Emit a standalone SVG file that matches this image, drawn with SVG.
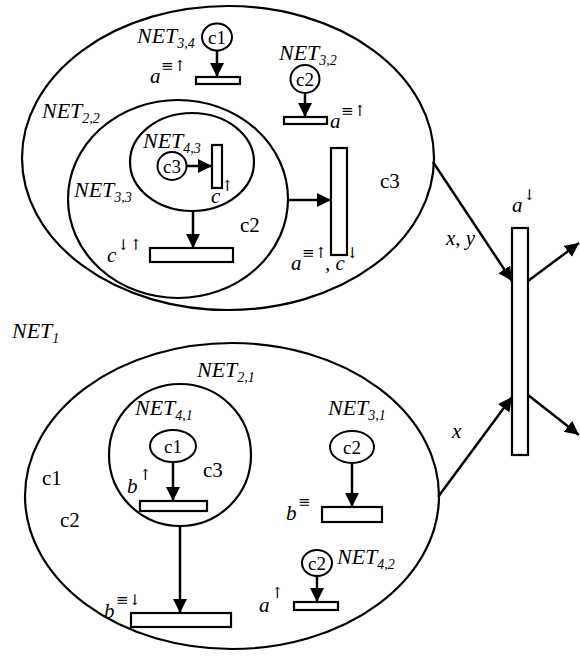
<svg xmlns="http://www.w3.org/2000/svg" width="580" height="656" viewBox="0 0 580 656">
<defs>
<marker id="ah" markerUnits="userSpaceOnUse" markerWidth="16" markerHeight="16" refX="14" refY="7" orient="auto">
<path d="M0,0 L14,7 L0,14 z" fill="#000"/>
</marker>
<style>
.reg{fill:none;stroke:#000;stroke-width:2.2}
.bar{fill:#fff;stroke:#000;stroke-width:2.2}
.pl{fill:#fff;stroke:#000;stroke-width:2}
.cn{fill:none;stroke:#000;stroke-width:2.5;marker-end:url(#ah)}
.net{font-family:'Liberation Serif','Times New Roman','DejaVu Serif',serif;font-style:italic;font-size:22px;fill:#000}
.sub{font-size:14px}
.it{font-family:'Liberation Serif','Times New Roman','DejaVu Serif',serif;font-style:italic;font-size:21px;fill:#000}
.sup{font-family:'DejaVu Serif','DejaVu Sans',serif;font-style:normal;font-size:15px;fill:#000}
.col{font-family:'Liberation Serif','Times New Roman','DejaVu Serif',serif;font-size:21px;fill:#000}
.pc{font-family:'Liberation Serif','Times New Roman','DejaVu Serif',serif;font-size:19px;fill:#000;text-anchor:middle}
</style>
</defs>
<rect width="580" height="656" fill="#fff"/>

<g id="net1-label">
<text class="net" x="12" y="338">NET<tspan class="sub" dy="5">1</tspan></text>
</g>

<g id="top-region">
<ellipse class="reg" cx="228" cy="158" rx="206" ry="152"/>
<text class="col" x="380" y="188">c3</text>
</g>

<g id="net34">
<text class="net" x="137" y="43">NET<tspan class="sub" dy="5">3,4</tspan></text>
<ellipse class="pl" cx="217" cy="37" rx="15" ry="13.5"/>
<text class="pc" x="217" y="44">c1</text>
<rect class="bar" x="196" y="77" width="44" height="7"/>
<text class="it" x="150" y="83">a</text><text class="sup" x="161" y="71">≡↑</text>
</g>

<g id="net32">
<text class="net" x="279" y="60">NET<tspan class="sub" dy="5">3,2</tspan></text>
<ellipse class="pl" cx="305" cy="79" rx="14.5" ry="14"/>
<text class="pc" x="305" y="86">c2</text>
<rect class="bar" x="284" y="117" width="43" height="7"/>
<text class="it" x="330" y="128">a</text><text class="sup" x="341" y="116">≡↑</text>
</g>

<g id="net22">
<ellipse class="reg" cx="178" cy="199" rx="110" ry="99"/>
<text class="net" x="42" y="118">NET<tspan class="sub" dy="5">2,2</tspan></text>
<text class="col" x="240" y="232">c2</text>
</g>

<g id="net43">
<ellipse class="reg" cx="192" cy="162" rx="62" ry="49"/>
<text class="net" x="143" y="148">NET<tspan class="sub" dy="5">4,3</tspan></text>
<ellipse class="pl" cx="172" cy="166" rx="14.5" ry="14"/>
<text class="pc" x="172" y="173">c3</text>
<rect class="bar" x="212" y="145" width="10" height="43"/>
<text class="it" x="211" y="203">c</text><text class="sup" x="221" y="191">↑</text>
</g>

<g id="net33">
<text class="net" x="74" y="197">NET<tspan class="sub" dy="5">3,3</tspan></text>
<rect class="bar" x="150" y="248" width="83" height="14"/>
<text class="it" x="107" y="262">c</text><text class="sup" x="117" y="250">↓↑</text>
</g>

<g id="top-bar">
<rect class="bar" x="331" y="148" width="16" height="107"/>
<text class="it" x="291" y="270">a</text><text class="sup" x="302" y="258">≡↑</text>
<text class="it" x="325" y="270">, c</text><text class="sup" x="346" y="258">↓</text>
</g>

<g id="right-bar">
<rect class="bar" x="512" y="228" width="16" height="227"/>
<text class="it" x="512" y="212">a</text><text class="sup" x="523" y="200">↓</text>
</g>

<g id="bottom-region">
<ellipse class="reg" cx="232" cy="496" rx="207" ry="153"/>
<text class="col" x="42" y="485">c1</text>
<text class="col" x="60" y="527">c2</text>
</g>

<g id="net21">
<circle class="reg" cx="180" cy="455" r="71"/>
<text class="net" x="197" y="377">NET<tspan class="sub" dy="5">2,1</tspan></text>
<rect class="bar" x="131" y="613" width="100" height="14"/>
<text class="it" x="104" y="618">b</text><text class="sup" x="116" y="605">≡↓</text>
</g>

<g id="net41">
<text class="net" x="135" y="415">NET<tspan class="sub" dy="5">4,1</tspan></text>
<ellipse class="pl" cx="173" cy="446" rx="23" ry="16"/>
<text class="pc" x="173" y="453">c1</text>
<rect class="bar" x="140" y="501" width="67" height="10"/>
<text class="it" x="127" y="493">b</text><text class="sup" x="139" y="480">↑</text>
<text class="col" x="203" y="477">c3</text>
</g>

<g id="net31">
<text class="net" x="328" y="415">NET<tspan class="sub" dy="5">3,1</tspan></text>
<ellipse class="pl" cx="352" cy="447" rx="22" ry="16"/>
<text class="pc" x="352" y="454">c2</text>
<rect class="bar" x="322" y="507" width="60" height="15"/>
<text class="it" x="286" y="520">b</text><text class="sup" x="298" y="507">≡</text>
</g>

<g id="net42">
<text class="net" x="337" y="564">NET<tspan class="sub" dy="5">4,2</tspan></text>
<ellipse class="pl" cx="317" cy="563" rx="15" ry="13"/>
<text class="pc" x="317" y="570">c2</text>
<rect class="bar" x="294" y="602" width="44" height="8"/>
<text class="it" x="259" y="612">a</text><text class="sup" x="271" y="598">↑</text>
</g>

<g id="connectors">
<line class="cn" x1="217" y1="51" x2="217" y2="77"/>
<line class="cn" x1="305" y1="93" x2="305" y2="117"/>
<line class="cn" x1="187" y1="166" x2="212" y2="166"/>
<line class="cn" x1="193" y1="211" x2="193" y2="248"/>
<line class="cn" x1="288" y1="200" x2="331" y2="200"/>
<line class="cn" x1="433" y1="162" x2="512" y2="281"/>
<line class="cn" x1="528" y1="281" x2="579" y2="243"/>
<line class="cn" x1="438" y1="497" x2="512" y2="397"/>
<line class="cn" x1="528" y1="395" x2="579" y2="435"/>
<line class="cn" x1="173" y1="462" x2="173" y2="501"/>
<line class="cn" x1="180" y1="526" x2="180" y2="613"/>
<line class="cn" x1="352" y1="463" x2="352" y2="507"/>
<line class="cn" x1="317" y1="576" x2="317" y2="602"/>
<text class="it" x="446" y="245">x, y</text>
<text class="it" x="452" y="438">x</text>
</g>
</svg>
